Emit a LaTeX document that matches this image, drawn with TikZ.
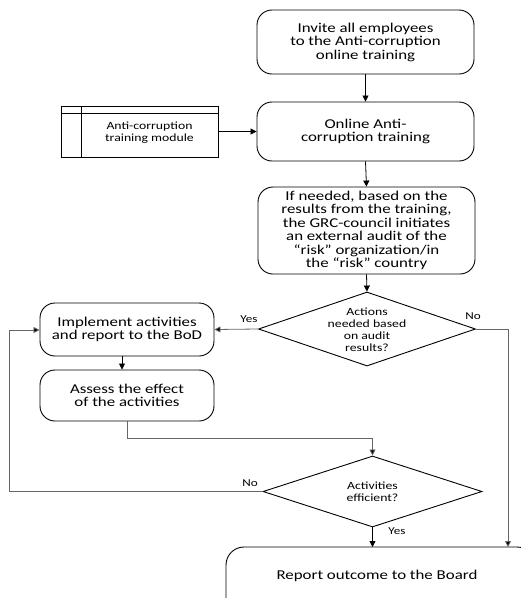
\documentclass[tikz,border=0pt]{standalone}
\usepackage{fontspec}
\setmainfont[FakeStretch=1.25]{Carlito}
\usetikzlibrary{shapes.geometric,arrows.meta}
\tikzset{
  proc/.style={draw=black, line width=0.9pt, rounded corners=15pt, inner sep=0pt, align=center,
    font=\fontsize{13.5}{13.5}\selectfont},
  dia/.style={draw=black, line width=0.9pt, diamond, inner sep=0pt},
  diatext/.style={align=center, inner sep=0pt, font=\fontsize{11}{12}\selectfont},
  lbl/.style={inner sep=0pt, font=\fontsize{10.5}{12}\selectfont},
  conn/.style={draw=black!60, line width=0.8pt, -{Triangle[length=6pt,width=6pt,fill=black]}},
  bconn/.style={draw=black, line width=0.8pt, -{Triangle[length=6pt,width=6pt,fill=black]}},
}
\begin{document}
\begin{tikzpicture}[x=1pt,y=-1pt]
\useasboundingbox (0,0) rectangle (521,598);
\clip (0,0) rectangle (521,598);
% boxes
\node[proc, minimum width=217pt, minimum height=64pt] (inv) at (365.5,42)
  {Invite all employees\\to the Anti-corruption\\online training};
\node[proc, minimum width=217pt, minimum height=59pt] (onl) at (365.5,131.5)
  {Online Anti-\\corruption training};
\node[proc, minimum width=217pt, minimum height=87pt] (ifn) at (366.5,230.5)
  {If needed, based on the\\results from the training,\\the GRC-council initiates\\an external audit of the\\“risk” organization/in\\the “risk” country};
% module
\node[draw=black, line width=1pt, minimum width=157pt, minimum height=51pt, inner sep=0pt] (mod) at (139.5,131.5) {};
\draw[line width=1pt] (61,113) -- (218,113);
\draw[line width=1pt] (81,106) -- (81,157);
\node[align=center, inner sep=0pt, font=\fontsize{11}{12}\selectfont] (modt) at (149.5,133)
  {Anti-corruption\\training module};
% diamond 1
\node[dia, minimum width=217pt, minimum height=74pt] (d1) at (367,329) {};
\node[diatext] (d1t) at (367,330) {Actions\\needed based\\on audit\\results?};
% implement / assess
\node[proc, minimum width=174pt, minimum height=53pt] (imp) at (127,329.5)
  {Implement activities\\and report to the BoD};
\node[proc, minimum width=174pt, minimum height=51pt] (ass) at (127,395.5)
  {Assess the effect\\of the activities};
% diamond 2
\node[dia, minimum width=219pt, minimum height=71pt] (d2) at (372.5,491.5) {};
\node[diatext] (d2t) at (372.5,492) {Activities\\efficient?};
% report
\node[draw=black, line width=0.9pt, rounded corners=18pt, minimum width=309pt, minimum height=70pt, inner sep=0pt] (rep) at (380.5,582) {};
\node[inner sep=0pt, font=\fontsize{13.5}{13.5}\selectfont] (rept) at (377,576) {Report outcome to the Board};
% coordinates
\coordinate (c1) at (508,329);
\coordinate (c1b) at (508,547);
\coordinate (c2) at (127,438);
\coordinate (c3) at (372.5,438);
\coordinate (c4) at (9,491.5);
\coordinate (c5) at (9,330);
\coordinate (c6) at (372.5,547);
% connectors
\draw[bconn] (inv.south) -- (onl.north);
\draw[bconn] (mod.east) -- (onl.west);
\draw[bconn] (onl.south) -- (ifn.north);
\draw[bconn] (ifn.south) -- (d1.north);
\draw[conn] (d1.west) -- (imp.east);
\draw[conn] (d1.east) -- (c1) -- (c1b);
\draw[bconn] ([xshift=-5pt]imp.south) -- ([xshift=-5pt]ass.north);
\draw[conn] (ass.south) -- (c2) -- (c3) -- (d2.north);
\draw[conn] (d2.west) -- (c4) -- (c5) -- (imp.west |- c5);
\draw[bconn] (d2.south) -- (c6);
% labels
\node[lbl] (ly1) at (249,319) {Yes};
\node[lbl] (ln1) at (473,316) {No};
\node[lbl] (ln2) at (250,483) {No};
\node[lbl] (ly2) at (397,531) {Yes};
\end{tikzpicture}
\end{document}
